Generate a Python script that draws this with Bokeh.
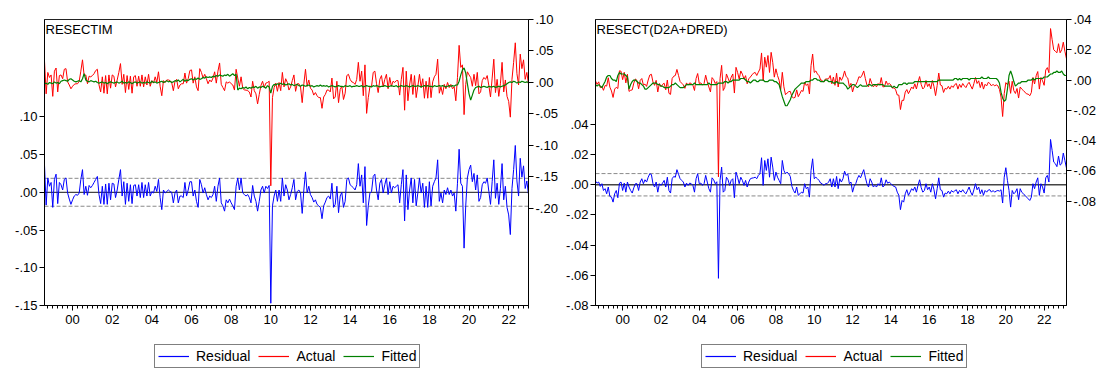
from bokeh.plotting import figure
from bokeh.models import (Range1d, LinearAxis, FixedTicker, CustomJSTickFormatter,
                          Span, Legend, LegendItem, Label)
from bokeh.layouts import row, column
from bokeh.embed import file_html
from bokeh.resources import INLINE

# ---------------- data (monthly, first observation 1998m08) ----------------
START = 1998 + 7 / 12.0
SCALE = 0.001  # arrays below are in units of 0.001

TITLE1 = "RESECTIM"
RESID1 = [
    36, -17, 19, 8, 13, -20, 17, 24, -15, 13,
    10, 3, 17, 19, -1, -9, -16, -10, -5, -3,
    -4, -1, 17, 30, -3, 8, -4, 9, 6, 9,
    13, 17, 21, -3, -15, 8, -16, 11, -16, 12,
    -10, 12, 11, -7, 3, 17, 30, -5, 14, -16,
    12, -12, 10, -15, 9, 10, -5, 10, -7, 13,
    -7, 10, -5, 13, -5, 1, -1, 8, 1, 17,
    -7, -23, 3, -1, 1, 3, 1, 0, -14, -1,
    3, -14, -5, -5, -7, 13, -5, 3, 14, 14,
    -5, 3, -12, -20, 17, 10, -1, 6, -3, -10,
    -5, -7, -3, 8, -12, 8, 19, -14, -18, -25,
    -10, -14, -9, -14, -18, -23, 8, 19, 3, 19,
    -1, -3, -5, -3, -7, -14, 9, -5, -12, -25,
    -12, 3, 8, -1, 8, 5, 9, -147,
    -18, -5, 3, -12, 3, -12, 19, -5, 10, 3,
    -10, -3, 6, 17, -10, 1, 3, -1, -28, 3,
    27, -1, 8, -3, -7, -13, -10, -16, -18, -20,
    -35, -18, -13, -7, -5, -9, 12, -20, -16, 8,
    -27, -5, 0, -20, -12, 17, 19, 10, 8, 6,
    3, 10, 38, 8, 23, -14, 34, -44, -18, -1,
    1, 21, 24, 3, -10, 12, 17, -1, 10, 19,
    -3, 14, -1, 8, 6, 8, 10, -14, 10, 30,
    -38, 23, -23, 3, 19, -14, 17, -18, -1, 19,
    -1, 12, -20, 8, -20, 14, -18, 8, 14, 19,
    43, -12, -1, -14, 3, -3, 6, -3, 3, -5,
    -1, -25, 12, 57, 12, 8, -74, -18, 19, 30,
    36, 14, 25, 3, 23, -12, -7, 10, 14, 12,
    19, 1, -16, 14, 43,
    -8, 12, -16, 5, 38, -10, 8, -20, -30, -56,
    5, 30, 62, 15, -5, 45, 20, 35, 5, 15, -3,
]
FITTED1 = [
    -2, -1, -3, 0, -1, -2, 1, -1, 0, -2,
    2, 3, 4, 3, 2, 5, 6, 4, 2, 1,
    2, 3, 1, 6, 14, 4, 2, 1, 3, 2,
    1, 2, 0, -1, 0, 1, -1, 0, -2, 0,
    1, 0, -1, 0, 1, -1, 0, 2, -1, 0,
    -1, 1, 0, -2, 0, 1, -1, 0, 1, -1,
    0, -1, 1, 0, -1, 2, 0, 1, -1, 0,
    1, 2, 0, 1, 3, 1, 2, 0, 1, 3,
    2, 4, 1, 3, 5, 2, 4, 3, 5, 6,
    4, 6, 5, 7, 5, 6, 8, 7, 9, 8,
    9, 8, 10, 9, 11, 10, 12, 11, 10, 12,
    11, 13, 10, 12, 14, 11, 13,
    -12, -9, -10, -8, -9, -7, -10, -8, -9, -7,
    -8, -6, -9, -7, -8, -6, -7, -9, -5, -7,
    -17,
    -6, -3, -4, -2, -3, -1, -3, -2, -4, -3, -2, -4,
    -3, -5, -4, -3, -5, -6, -4, -5, -6, -5,
    -4, -6, -5, -7, -6, -5, -6, -4, -6, -5,
    -6, -5, -7, -6, -5, -6, -7, -6, -5, -6,
    -6, -7, -5, -6, -6, -5, -7, -6, -6, -5,
    -6, -6, -5, -7, -6, -5, -6, -6, -7, -5,
    -6, -5, -6, -7, -6, -6, -5, -6, -7, -6,
    -5, -6, -6, -5, -7, -6, -5, -6, -6, -5,
    -6, -7, -6, -5, -6, -6, -5, -6, -7, -6,
    -5, -6, -5, -6, -6, -7, -5, -6, -6, -5,
    -6, -5, -6, -7, -6, -5, -6, -5, -6, -4,
    -4, 2, 12, 20, 23, 15, -2, -18, -28, -20, -12, -8,
    -7, -6, -8, -7, -6, -7, -8, -6, -7, -7, -6, -8, -7, -6, -7, -6, -5, -4,
    -2, 0, 1, 0, 2, 1, -1, 1, 0, 2, 1, 0, 1, 0,
]
SE1 = 0.0185

TITLE2 = "RESECT(D2A+DRED)"
RESID2 = [
    2.4, 1.1, 1.8, -1.1, 0.7, -3.8, -2.6, -6, -1.5, -7.7,
    -8.2, -11.5, -6, -3.8, -8.6, 1.1, 1.8, -3.8, 1.1, -4.9,
    1.8, -1.5, -3.8, -5.5, -2, 0.7, 0.7, -3.8, 1.8, 4,
    0.7, 3.3, 1.8, 5, 7.3, 6.8, 0.7, -1.5, 1.8, -4.9,
    0.7, -0.4, 1.1, 2.9, -1.5, 5, -3.8, -5.5, 4, 5.5,
    5, 10, 7, 4, 2.9, 1.8, -1.5, 1.1, -0.4, 1.1,
    0.7, -0.4, -4.9, 4, 7.3, 0.7, 1.1, -0.4, 0.7, 6.2,
    1.8, -2.6, -4.9, 4.6, 3.3, 0.7, 2,
    -62,
    2.9, 11.7, -4.9, -3.8, 5, 3.3, -0.4, 2.9, 4, -8.6,
    8.4, 5, 0.7, 5, 2.9, -0.4, 2.9, -1.5, 1.8, 4,
    4.4, 4.6, 5, 4, 6.2, 7.3, 17.9, -0.4, 16.1, 9.5,
    17.2, 5, 18.3, 11.7, 2.9, 8.4, 5, 2.9, 0.7, 16.1,
    9.5, 7.3, 8.4, 7.3, 5.5, -1, -3.8, -5.5, -1.5, -7,
    -6, -4.9, -5.5, 0.7, -2.6, -1.5, -8.2, 9.5, 17.2, 4,
    5, 4, 2.9, 1.1,
    0.7, -0.4, 0.7, 0.7, 1.8, 4, -1.5, 4, -1.5, 5.5,
    -2.6, 4, 1.8, 4, 9, 6.2, 7.3, 0.7, 1.8, -4.9,
    -1, 0.7, 4, 6.2, 4.6, 7.3, 10, 5, 0.7, -1.5,
    4, 1.8, -1.5, -0.4, -1.5, 0.7, -0.4, 4.6, -1.5, -0.4,
    3.3, 1, 1.8, 0.7, -0.4, -1.1, -1.5, -4.9, -7, -16.5,
    -10.4, -11.5, -6, -3.3, -7, -4.9, -2.6, -3.8, -1.5, -4.9,
    -0.4, 3.3, -2, -4.9, -3.8, 0.7, -3.3, -1.5, -4.9, 0.7,
    -3.3, -9.3, -2.6, 4.6, -3.3, -3.8, -8.2, -5.5, -6, -4.2,
    -6, -3.8, -4.9, -4, -3.3, -6, -3.8, -4.9, -3.3, -4.9,
    -6, -3.8, -1.5, -4.9, -7, -3.3, 0.7, -3.3, -1.5, -6,
    -3.3, -7, -3.8, -4.9, -3.5, -3.3, -4.9, -3.8, -4.9, -4.2,
    -3.8, -4.2, -3.3, -12.1, 5, 11.3, 2.9, -3.8, -14.8, -3.8,
    -6, -4.9, -2.6, -9.9, -2.6, -5, -6, -7, -8.2, -9.3,
    -10.4, -8.2, 0.7, -2.6, 1.8, 4.6, -7, 0.7, -1.5, -5.5,
    4.6, 6.2, 1.8, 30, 22.7, 15,
    14, 12, 19, 13, 14, 21, 16, 11,
]
FITTED2 = [
    -3, -4, -3, -4, -5, -3, -1, 2, 3, 3,
    1, 0, 0, -1, 3, 5, 4, 4, 4, 3,
    2, -6, -3, -1, 0, 0, -1, -2, -2, -3,
    -4, -6, -6, -5, -4, -3, -2, -2, -2, -3,
    -3, -4, -4, -5, -5, -5, -5, -4, -3, -3,
    -2, -3, -4, -5, -5, -5, -4, -3, -3, -3,
    -3, -3, -2, -3, -3, -3, -3, -3, -3, -3,
    -3, -2, -3, -3, -3, -3, -3, -2, -2, -2,
    -2, -1, -1, -2, -1, -1, 0, 0, 0, 0,
    0, 1, 1, 1, 0, -1, -1, -2, -1, 0,
    0, -1, -1, 0, 0, 0, -1, -1, -1, 0,
    0, 0, -1, -1, -2, -3, -7, -11, -14, -17,
    -17, -15, -13, -10, -8, -6, -5, -4, -3, -2,
    -2, -2, -1, -1, -1, 0, 0, 1, 1, 0,
    0, -1, -1, -1, 0, 0, -1, -1, -1, -2,
    -2, -1, -2, -2, -2, -2, -3, -4, -6, -5,
    -4, -3, -3, -4, -5, -4, -3, -4, -4, -4,
    -4, -3, -3, -4, -3, -3, -3, -3, -3, -3,
    -3, -4, -4, -4, -4, -4, -5, -4, -5, -5,
    -3, -3, -3, -2, -2, -3, -2, -2, -2, -2,
    -1, -1, -1, -1, -1, -1, -1, -1, -1, -1,
    -1, -1, -1, -1, -1, 0, 0, 0, 0, 0,
    0, 0, 0, 0, 0, 1, 1, 0, 1, 0,
    1, 1, 1, 1, 0, 1, 1, 1, 1, 1,
    1, 1, 2, 1, 1, 1, 2, 1, 1, 1,
    1, 1, 0, -2, -8, -12, -14, -13, -6, 3,
    6, 3, -1, -4, -3, -2, -2, -1, -1, -1,
    -1, 0, 0, 0, 1, 0, 1, 1, 1, 1,
    1, 2, 2, 2, 3, 4, 4, 5, 5, 6,
    5, 5, 6, 4, 3, 3,
]
SE2 = 0.0074

YEAR_TICKS = list(range(2000, 2023, 2))
LEFT_TICKS_1 = [-0.15, -0.10, -0.05, 0.0, 0.05, 0.10]
RIGHT_TICKS_1 = [-0.20, -0.15, -0.10, -0.05, 0.0, 0.05, 0.10]
LEFT_TICKS_2 = [-0.08, -0.06, -0.04, -0.02, 0.0, 0.02, 0.04]
RIGHT_TICKS_2 = [-0.08, -0.06, -0.04, -0.02, 0.0, 0.02, 0.04]
LEGEND_LABELS = ["Residual", "Actual", "Fitted"]
COLORS = ["#0000FF", "#FF0000", "#008000"]

# ---------------- styling ----------------
FONT = "Liberation Sans"
H_TOP = 335
H_LEG = 35
QUARTERS = [y + q / 4.0 for y in range(1998, 2024) for q in range(4)]

VAL_FMT = """
const a = Math.abs(tick);
const s = Math.round(a * 100).toString().padStart(2, '0');
return (tick < -1e-9 ? '-' : '') + '.' + s;
"""
YEAR_FMT = "return String(Math.round(tick) % 100).padStart(2, '0');"


def style_axis(ax, font_size="13px"):
    ax.axis_line_color = "black"
    ax.axis_line_width = 1
    ax.major_tick_line_color = "black"
    ax.major_tick_out = 5
    ax.major_tick_in = 0
    ax.major_label_text_font = FONT
    ax.major_label_text_font_size = font_size
    ax.major_label_text_color = "black"
    ax.major_label_standoff = 2


def series(resid, fitted):
    x = [START + i / 12.0 for i in range(len(resid))]
    res = [v * SCALE for v in resid]
    fit = [v * SCALE for v in fitted]
    act = [f + r for f, r in zip(fit, res)]
    return x, [res, act, fit]


def make_panel(title, resid, fitted, se, yl, yr, lt, rt, width, bl, br, bt, fh):
    x, (res, act, fit) = series(resid, fitted)

    p = figure(width=width, height=H_TOP, output_backend="svg", toolbar_location=None,
               title=None, x_range=Range1d(x[0], x[-1]), y_range=Range1d(*yl))
    p.min_border_left = bl
    p.min_border_right = br
    p.min_border_top = bt
    p.min_border_bottom = H_TOP - bt - fh
    p.background_fill_color = "white"
    p.border_fill_color = "white"
    p.outline_line_color = "#222222"
    p.outline_line_width = 1
    p.xgrid.visible = False
    p.ygrid.visible = False

    xa = p.xaxis[0]
    xa.ticker = FixedTicker(ticks=YEAR_TICKS, minor_ticks=QUARTERS)
    xa.formatter = CustomJSTickFormatter(code=YEAR_FMT)
    style_axis(xa)
    xa.minor_tick_line_color = "black"
    xa.minor_tick_out = 3
    xa.minor_tick_in = 0
    xa.major_label_standoff = 4

    ya = p.yaxis[0]
    ya.ticker = FixedTicker(ticks=lt)
    ya.formatter = CustomJSTickFormatter(code=VAL_FMT)
    style_axis(ya)
    ya.minor_tick_line_color = None

    p.extra_y_ranges = {"act": Range1d(*yr)}
    ra = LinearAxis(y_range_name="act", ticker=FixedTicker(ticks=rt),
                    formatter=CustomJSTickFormatter(code=VAL_FMT))
    style_axis(ra)
    ra.minor_tick_line_color = None
    p.add_layout(ra, "right")

    p.add_layout(Span(location=0, dimension="width", line_color="#444444",
                      line_width=1.3, level="underlay"))
    for s in (se, -se):
        p.add_layout(Span(location=s, dimension="width", line_color="#8a8a8a",
                          line_width=1, line_dash="4 2", level="underlay"))

    p.line(x, res, line_color=COLORS[0], line_width=1)
    p.line(x, act, line_color=COLORS[1], line_width=1, y_range_name="act")
    p.line(x, fit, line_color=COLORS[2], line_width=1.2, y_range_name="act")

    p.add_layout(Label(x=x[0], y=yl[1], text=title, text_baseline="top",
                       text_align="left", x_offset=1, y_offset=-2,
                       text_font=FONT, text_font_size="13px", text_color="black"))
    return p


def make_legend(width, left_px, resid, fitted):
    # the legend strip re-uses the series; its y-range lies above every value,
    # so only the legend keys are visible
    x, ys = series(resid, fitted)
    q = figure(width=width, height=H_LEG, output_backend="svg", toolbar_location=None,
               title=None, x_axis_location=None, y_axis_location=None,
               x_range=Range1d(x[0], x[-1]), y_range=Range1d(5, 6))
    q.min_border = 0
    q.outline_line_color = None
    q.xgrid.visible = False
    q.ygrid.visible = False
    rs = [q.line(x, y, line_color=c, line_width=1.2) for y, c in zip(ys, COLORS)]
    legend = Legend(items=[LegendItem(label=lab, renderers=[r])
                           for lab, r in zip(LEGEND_LABELS, rs)],
                    location=(left_px, 2), orientation="horizontal")
    legend.border_line_color = "black"
    legend.border_line_width = 1
    legend.background_fill_color = "white"
    legend.background_fill_alpha = 1
    legend.padding = 3
    legend.spacing = 8
    legend.margin = 0
    legend.label_standoff = 7
    legend.glyph_width = 31
    legend.glyph_height = 16
    legend.label_height = 16
    legend.label_text_font = FONT
    legend.label_text_font_size = "14px"
    legend.label_text_color = "black"
    q.add_layout(legend)
    return q


p1 = make_panel(TITLE1, RESID1, FITTED1, SE1, (-0.15, 0.2289), (-0.354, 0.10),
                LEFT_TICKS_1, RIGHT_TICKS_1, width=560, bl=44, br=32, bt=15, fh=290)
p2 = make_panel(TITLE2, RESID2, FITTED2, SE2, (-0.08, 0.1095), (-0.149, 0.04),
                LEFT_TICKS_2, RIGHT_TICKS_2, width=538, bl=35, br=30, bt=19, fh=286)
l1 = make_legend(560, 154, RESID1, FITTED1)
l2 = make_legend(538, 141, RESID2, FITTED2)

layout = column(row(p1, p2), row(l1, l2))
open("out.html", "w").write(file_html(layout, INLINE))
